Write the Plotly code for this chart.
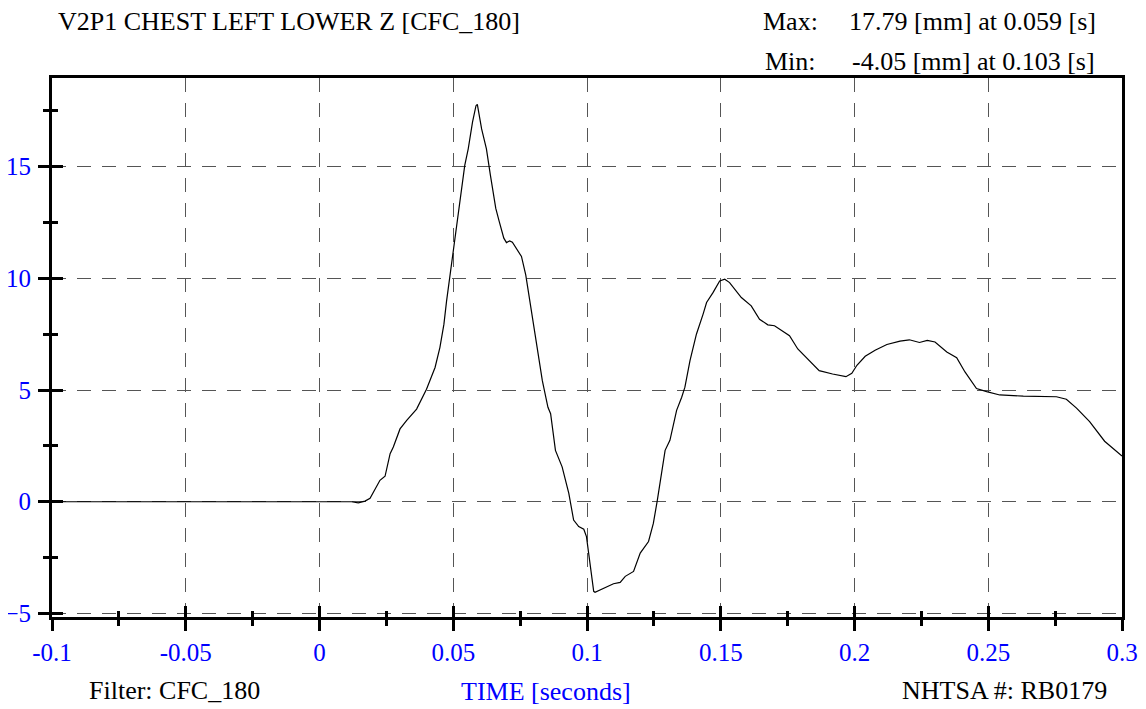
import plotly.graph_objects as go

# time [s] and chest deflection [mm]
time_s = [
    -0.1, 0.0, 0.012, 0.0145, 0.0170, 0.0189, 0.0226, 0.0245, 0.0264, 0.0276,
    0.0301, 0.0326, 0.0363, 0.0400, 0.0432, 0.0450, 0.0465, 0.0475, 0.0488, 0.0502,
    0.0519, 0.0535, 0.0543, 0.0556, 0.0572, 0.0585, 0.0590, 0.0606, 0.0624, 0.0639,
    0.0659, 0.0672, 0.0689, 0.0699, 0.0711, 0.0721, 0.0734, 0.0755, 0.0771, 0.0792,
    0.0813, 0.0833, 0.0854, 0.0864, 0.0882, 0.0907, 0.0932, 0.0950, 0.0969, 0.0988,
    0.0998, 0.1010, 0.1025, 0.1030, 0.1050, 0.1068, 0.1099, 0.1124, 0.1143, 0.1174,
    0.1199, 0.1230, 0.1248, 0.1263, 0.1279, 0.1292, 0.1310, 0.1323, 0.1335, 0.1354,
    0.1366, 0.1385, 0.1409, 0.1434, 0.1447, 0.1471, 0.1496, 0.1515, 0.1533, 0.1577,
    0.1614, 0.1645, 0.1676, 0.1701, 0.1757, 0.1788, 0.1819, 0.1868, 0.1918, 0.1968,
    0.1990, 0.2009, 0.2040, 0.2077, 0.2121, 0.2170, 0.2205, 0.2243, 0.2272, 0.2301,
    0.2345, 0.2382, 0.2413, 0.2456, 0.2494, 0.2543, 0.2631, 0.2705, 0.2755, 0.2792,
    0.2830, 0.2879, 0.2935, 0.3000,
]
deflection_mm = [
    0, 0, 0, -0.05, 0.03, 0.15, 0.96, 1.14, 2.15, 2.45,
    3.26, 3.64, 4.15, 5.04, 6.01, 6.90, 7.94, 8.98, 10.16, 11.50,
    12.83, 14.32, 15.06, 15.80, 16.99, 17.73, 17.79, 16.69, 15.80, 14.61,
    13.13, 12.54, 11.80, 11.60, 11.68, 11.62, 11.35, 10.98, 10.16, 8.53,
    6.90, 5.42, 4.23, 3.94, 2.30, 1.56, 0.37, -0.82, -1.11, -1.23,
    -1.56, -2.75, -4.01, -4.05, -3.94, -3.86, -3.67, -3.61, -3.34, -3.12,
    -2.30, -1.78, -0.97, 0.07, 1.26, 2.30, 2.75, 3.49, 4.09, 4.68,
    5.13, 6.32, 7.50, 8.40, 8.92, 9.36, 9.88, 9.96, 9.81, 9.14,
    8.77, 8.17, 7.92, 7.88, 7.43, 6.84, 6.46, 5.87, 5.72, 5.60,
    5.75, 6.11, 6.51, 6.78, 7.04, 7.19, 7.25, 7.13, 7.22, 7.15,
    6.70, 6.45, 5.81, 5.07, 4.93, 4.78, 4.73, 4.70, 4.70, 4.59,
    4.19, 3.59, 2.71, 2.05,
]
x_ticks = [-0.1, -0.05, 0, 0.05, 0.1, 0.15, 0.2, 0.25, 0.3]
x_tick_labels = ["-0.1", "-0.05", "0", "0.05", "0.1", "0.15", "0.2", "0.25", "0.3"]
y_ticks = [-5, 0, 5, 10, 15]

title_text = "V2P1 CHEST LEFT LOWER Z [CFC_180]"
max_text = "17.79 [mm] at 0.059 [s]"
min_text = "-4.05 [mm] at 0.103 [s]"

# page body has an 8px margin, so the figure is 8px smaller and shifted
OFF = 8
W, H = 1146 - OFF, 709 - OFF
L, R, T, B = 44, 24, 70, 92
SERIF = "Liberation Serif"
X_RANGE = [-0.1, 0.3]
Y_RANGE = [-5.16, 18.97]


def px(x):
    return (x - OFF - L) / (W - L - R)


def py(y):
    return (H - B - (y - OFF)) / (H - T - B)


fig = go.Figure()
fig.add_trace(go.Scatter(
    x=time_s, y=deflection_mm, mode="lines",
    line=dict(color="black", width=1.2), hoverinfo="skip", showlegend=False,
))
# invisible copy on the overlay axes so their inner ticks get drawn
fig.add_trace(go.Scatter(
    x=time_s[:1], y=deflection_mm[:1], mode="markers", xaxis="x2", yaxis="y2",
    marker=dict(opacity=0), hoverinfo="skip", showlegend=False,
))

grid = dict(showgrid=True, gridcolor="#555555", gridwidth=1, griddash="14px,11px", zeroline=False)
common = dict(showline=True, linecolor="black", linewidth=3, mirror=True, automargin=False,
              ticks="outside", ticklen=11, tickwidth=3, tickcolor="black",
              tickfont=dict(family=SERIF, size=25, color="blue"))
inner = dict(ticks="inside", ticklen=11, tickwidth=3, tickcolor="black", automargin=False,
             showticklabels=False, showgrid=False, zeroline=False, showline=False)

fig.update_layout(
    width=W, height=H,
    margin=dict(l=L, r=R, t=T, b=B),
    paper_bgcolor="white", plot_bgcolor="white",
    font=dict(family=SERIF, size=26, color="black"),
    xaxis=dict(range=X_RANGE, tickvals=x_ticks, ticktext=x_tick_labels,
               minor=dict(dtick=0.025, ticks="outside", ticklen=6, tickwidth=3, tickcolor="black"),
               ticklabelstandoff=0, **grid, **common),
    yaxis=dict(range=Y_RANGE, tickvals=y_ticks,
               minor=dict(dtick=2.5, tick0=0, ticks="outside", ticklen=6, tickwidth=3, tickcolor="black"),
               ticklabelstandoff=2, **grid, **common),
    xaxis2=dict(overlaying="x", anchor="y2", range=X_RANGE, tickvals=x_ticks,
                minor=dict(dtick=0.025, ticks="inside", ticklen=6, tickwidth=3, tickcolor="black"),
                **inner),
    yaxis2=dict(overlaying="y", anchor="x2", range=Y_RANGE, tickvals=y_ticks,
                minor=dict(dtick=2.5, tick0=0, ticks="inside", ticklen=6, tickwidth=3, tickcolor="black"),
                **inner),
)


def note(text, x, y, anchor="left", color="black"):
    fig.add_annotation(text=text, x=px(x), y=py(y), xref="paper", yref="paper",
                       xanchor=anchor, yanchor="middle", showarrow=False,
                       font=dict(family=SERIF, size=26, color=color))


note(title_text, 56, 21)
note("Max:", 761, 22)
note(max_text, 847, 22)
note("Min:", 763, 61)
note(min_text, 850, 61)
note("Filter: CFC_180", 87, 690)
note("TIME [seconds]", 546, 691, anchor="center", color="blue")
note("NHTSA #: RB0179", 900, 690)

fig.write_html("out.html")
